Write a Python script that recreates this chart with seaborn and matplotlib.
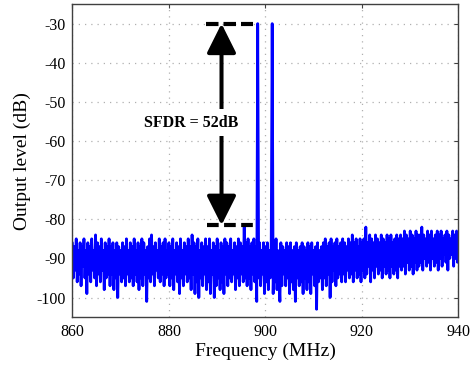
import numpy as np
import matplotlib
matplotlib.use("Agg")
import matplotlib.pyplot as plt
import seaborn as sns
import pandas as pd
from matplotlib.patches import FancyArrowPatch

# Spectrum trace (0.2 MHz steps, 860 -> 940 MHz)
freq_start = 860.0
freq_step = 0.2
level_db = [
    -86, -95, -87, -93, -85, -96, -88, -94, -86, -97, -87, -92, -85, -95, -88, -99, -86, -94, -87, -96,
    -85, -93, -88, -95, -84, -97, -86, -94, -87, -96, -85, -93, -88, -98, -86, -95, -87, -94, -85, -97,
    -87, -94, -86, -98, -88, -95, -86, -100, -87, -94, -88, -96, -86, -95, -87, -97, -85, -94, -88, -96,
    -86, -95, -87, -97, -85, -94, -88, -96, -86, -98, -87, -95, -85, -97, -86, -94, -88, -101, -87, -95,
    -85, -96, -84, -94, -87, -97, -86, -93, -88, -95, -85, -96, -87, -94, -86, -97, -85, -95, -88, -94,
    -86, -97, -87, -95, -85, -98, -88, -94, -86, -96, -87, -99, -85, -95, -88, -97, -86, -94, -87, -96,
    -85, -95, -87, -98, -84, -94, -86, -99, -87, -96, -85, -100, -88, -95, -86, -97, -87, -94, -85, -98,
    -87, -96, -85, -99, -88, -94, -86, -100, -87, -97, -85, -95, -88, -98, -86, -96, -87, -99, -85, -94,
    -86, -97, -87, -95, -85, -96, -88, -94, -86, -98, -87, -95, -85, -97, -86, -94, -87, -96, -82, -95,
    -86, -97, -85, -95, -87, -98, -86, -94, -85, -96, -87, -101, -30, -95, -86, -97, -88, -94, -86, -99,
    -87, -96, -86, -98, -88, -95, -86, -30, -99, -87, -96, -85, -98, -88, -95, -101, -86, -97, -87, -94,
    -88, -97, -86, -95, -87, -99, -86, -96, -88, -98, -87, -101, -86, -95, -88, -97, -87, -96, -86, -99,
    -87, -95, -88, -98, -86, -96, -87, -99, -86, -94, -88, -97, -87, -103, -86, -96, -88, -95, -87, -98,
    -86, -95, -85, -97, -87, -94, -86, -100, -85, -96, -87, -93, -86, -97, -85, -95, -87, -94, -86, -96,
    -85, -94, -86, -96, -87, -93, -85, -95, -86, -94, -84, -96, -86, -93, -85, -95, -87, -94, -85, -96,
    -86, -93, -85, -95, -82, -94, -86, -92, -84, -96, -85, -93, -86, -95, -84, -92, -85, -94, -86, -93,
    -84, -95, -85, -92, -86, -94, -84, -93, -85, -95, -84, -92, -86, -94, -85, -93, -84, -95, -85, -92,
    -84, -93, -85, -92, -83, -94, -84, -91, -85, -93, -83, -92, -84, -94, -85, -91, -83, -93, -84, -92,
    -84, -91, -82, -93, -84, -90, -85, -92, -83, -91, -84, -93, -83, -90, -85, -92, -84, -91, -83, -93,
    -84, -90, -83, -92, -85, -89, -84, -91, -83, -93, -84, -90, -85, -89, -83, -92, -84, -90, -83, -91,
    -84,
]
freq_mhz = freq_start + freq_step * np.arange(len(level_db))

# SFDR annotation
sfdr_x = 890.9
sfdr_top = -30
sfdr_bottom = -81.5
sfdr_label = "SFDR = 52dB"

df = pd.DataFrame({"Frequency (MHz)": freq_mhz, "Output level (dB)": level_db})

sns.set_style("white")
plt.rcParams["font.family"] = ["Liberation Serif", "DejaVu Serif"]
plt.rcParams["axes.unicode_minus"] = False
plt.rcParams["text.color"] = "black"
plt.rcParams["axes.labelcolor"] = "black"
plt.rcParams["xtick.labelcolor"] = "black"
plt.rcParams["ytick.labelcolor"] = "black"

fig = plt.figure(figsize=(4.7, 3.7), dpi=100)
ax = fig.add_axes([0.154, 0.143, 0.8215, 0.846])

sns.lineplot(data=df, x="Frequency (MHz)", y="Output level (dB)", ax=ax,
             color="#0000ff", lw=2.0, estimator=None, sort=False)

ax.set_xlim(860, 940)
ax.set_ylim(-105, -25)
ax.set_xticks([860, 880, 900, 920, 940])
ax.set_yticks([-100, -90, -80, -70, -60, -50, -40, -30])
ax.grid(True, color="#b0b0b0", linestyle=(0, (1, 4)), linewidth=0.9)
ax.tick_params(direction="in", top=True, right=True, length=3, width=0.8,
               color="#404040", labelsize=11.5, pad=5)
for s in ax.spines.values():
    s.set_color("#404040")
    s.set_linewidth(1.0)
ax.set_xlabel("Frequency (MHz)", fontsize=14, labelpad=2)
ax.set_ylabel("Output level (dB)", fontsize=14, labelpad=4)

# dashed reference levels
ax.plot([887.7, 897.4], [sfdr_top, sfdr_top], color="black", lw=3,
        linestyle=(0, (3.0, 1.2)), solid_capstyle="butt")
ax.plot([887.9, 897.6], [sfdr_bottom, sfdr_bottom], color="black", lw=3,
        linestyle=(0, (2.8, 1.3)), solid_capstyle="butt")

arrow = FancyArrowPatch((sfdr_x, sfdr_bottom), (sfdr_x, sfdr_top),
                        arrowstyle="<|-|>,head_length=1.2,head_width=0.6",
                        mutation_scale=15, lw=2.9, color="black",
                        shrinkA=0, shrinkB=0, zorder=5)
ax.add_patch(arrow)

ax.text(884.6, -55.3, sfdr_label, ha="center", va="center", fontsize=11.5,
        fontweight="bold", zorder=6,
        bbox=dict(facecolor="white", edgecolor="none", pad=4))

fig.savefig("out.png", dpi=100)
